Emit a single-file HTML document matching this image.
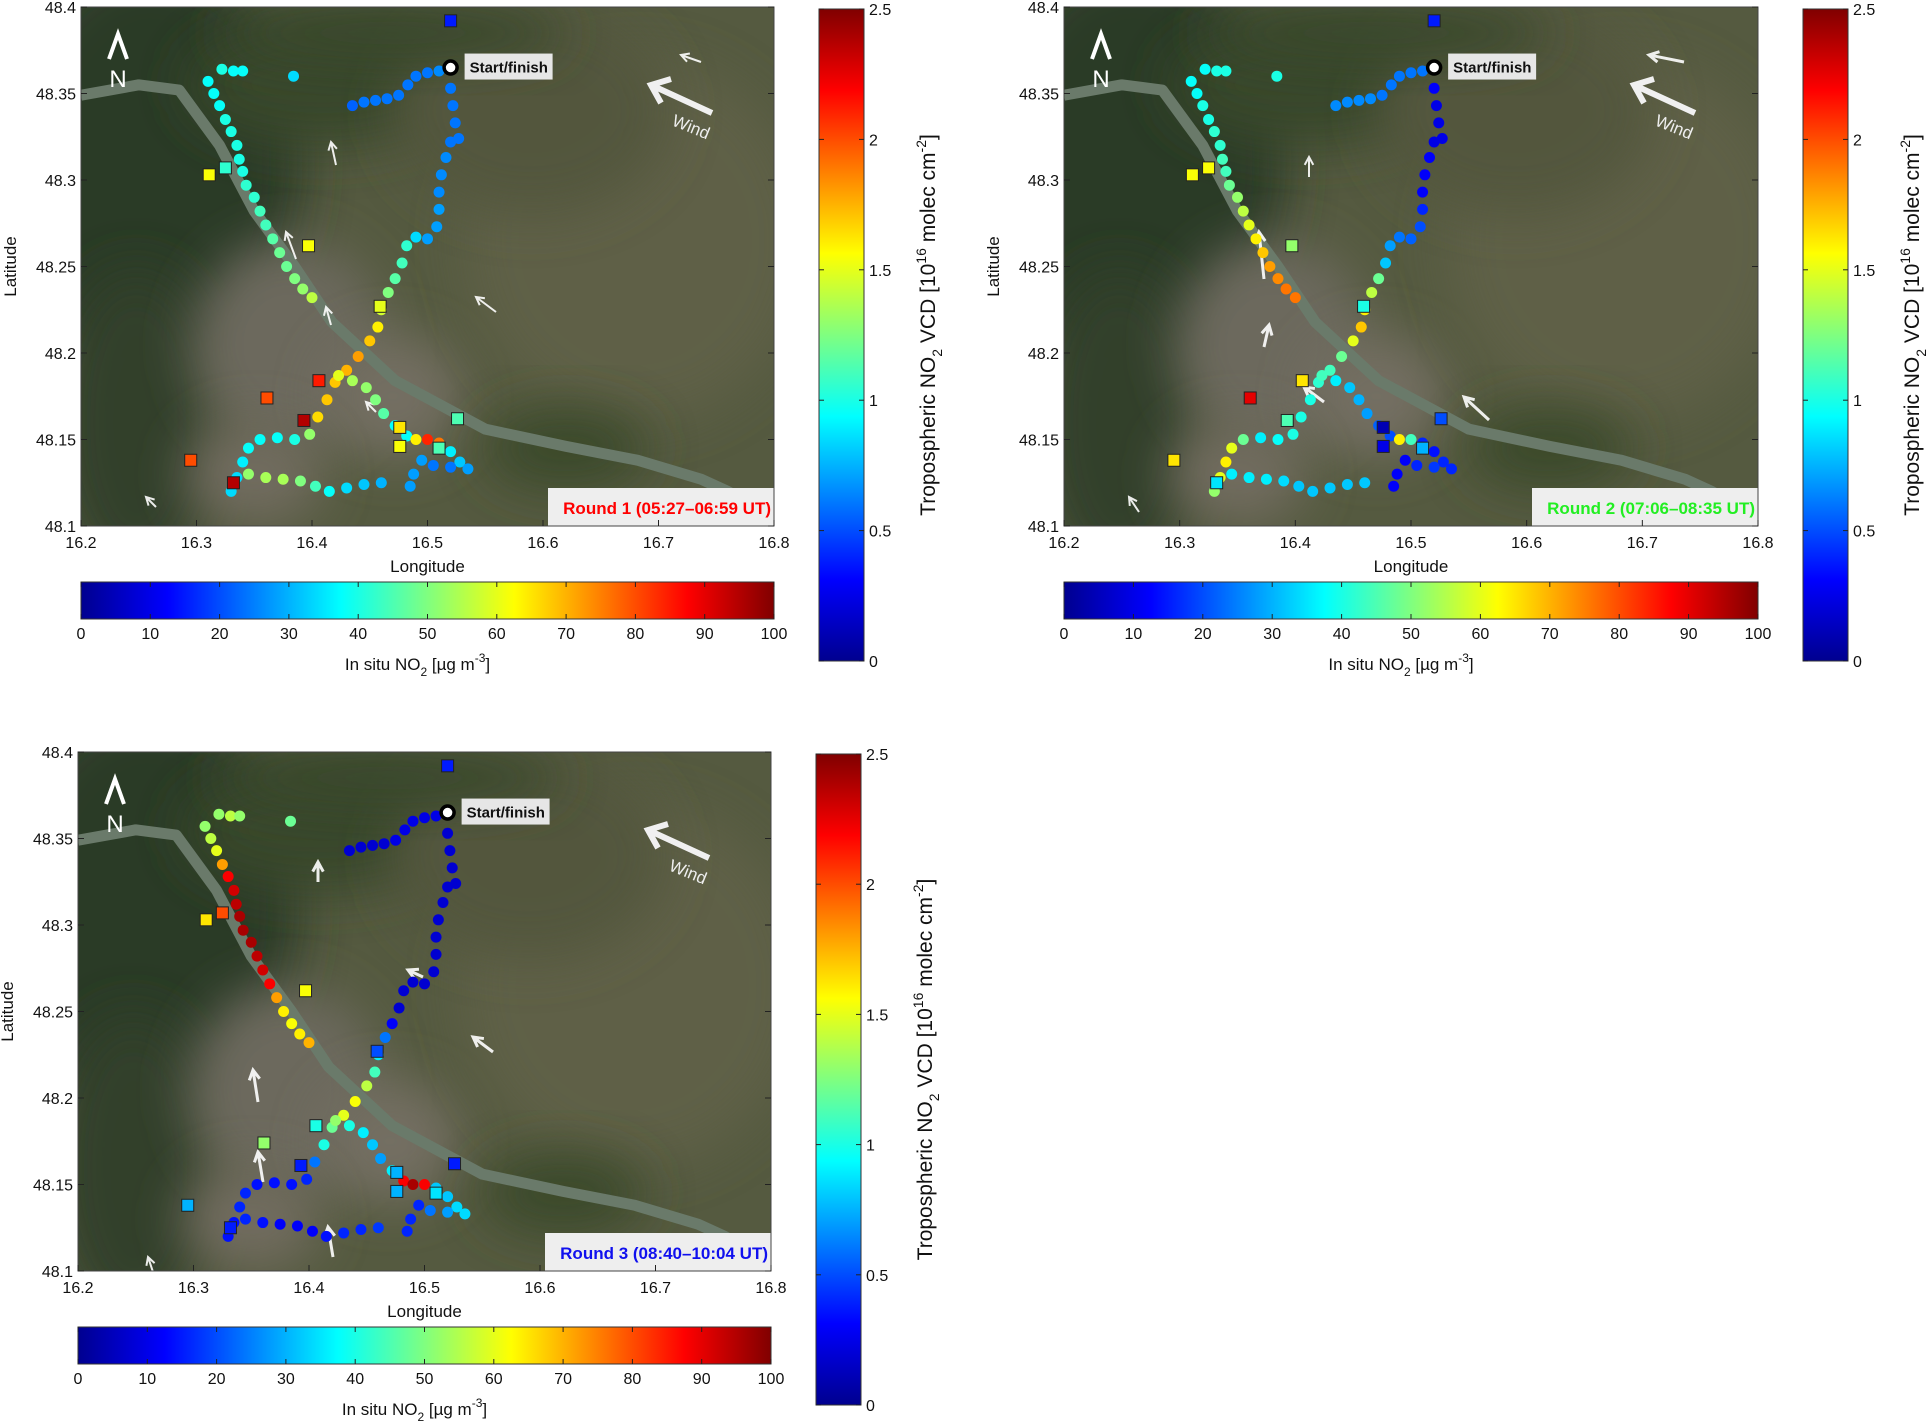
<!DOCTYPE html>
<html><head><meta charset="utf-8"><style>
html,body{margin:0;padding:0;background:#fff;}
svg{display:block;font-family:"Liberation Sans",Arial,sans-serif;}
</style></head><body>
<svg id="fig" width="1927" height="1427" viewBox="0 0 1927 1427" xmlns="http://www.w3.org/2000/svg">
<defs>
<linearGradient id="jetV" x1="0" y1="1" x2="0" y2="0">
<stop offset="0" stop-color="#00008f"/><stop offset="0.125" stop-color="#0000ff"/><stop offset="0.375" stop-color="#00ffff"/><stop offset="0.625" stop-color="#ffff00"/><stop offset="0.875" stop-color="#ff0000"/><stop offset="1" stop-color="#800000"/>
</linearGradient>
<linearGradient id="jetH" x1="0" y1="0" x2="1" y2="0">
<stop offset="0" stop-color="#00008f"/><stop offset="0.125" stop-color="#0000ff"/><stop offset="0.375" stop-color="#00ffff"/><stop offset="0.625" stop-color="#ffff00"/><stop offset="0.875" stop-color="#ff0000"/><stop offset="1" stop-color="#800000"/>
</linearGradient>
<filter id="blur" x="-50%" y="-50%" width="200%" height="200%"><feGaussianBlur stdDeviation="25"/></filter>
</defs>
</svg>
<script>
// ---- data ----
const lonTicks = [16.2,16.3,16.4,16.5,16.6,16.7,16.8];
const latTicks = [48.1,48.15,48.2,48.25,48.3,48.35,48.4];
const vcdTicks = [0,0.5,1,1.5,2,2.5];
const insituTicks = [0,10,20,30,40,50,60,70,80,90,100];
const roundLabels = ["Round 1 (05:27\u201306:59 UT)","Round 2 (07:06\u201308:35 UT)","Round 3 (08:40\u201310:04 UT)"];
const roundColors = ["#ff0000","#22ee22","#1010ee"];
const trackLon = [16.31,16.315,16.32,16.325,16.33,16.335,16.337,16.34,16.343,16.35,16.355,16.36,16.366,16.372,16.378,16.385,16.392,16.4,
16.322,16.332,16.34,16.384,
16.51,16.5,16.49,16.483,16.475,16.465,16.455,16.445,16.435,
16.52,16.522,16.524,16.527,16.52,16.516,16.512,16.51,16.51,16.508,16.5,16.49,16.482,16.478,16.472,16.466,16.46,16.457,16.45,16.44,16.43,16.42,16.413,16.405,16.398,16.385,16.37,16.355,16.345,16.34,16.335,16.33,
16.423,16.435,16.447,16.455,16.462,16.472,16.482,16.49,16.5,16.51,16.52,16.528,16.535,16.52,16.505,16.495,16.488,16.485,
16.345,16.36,16.375,16.39,16.403,16.415,16.43,16.445,16.46];
const trackLat = [48.357,48.35,48.343,48.335,48.328,48.32,48.312,48.305,48.297,48.29,48.282,48.274,48.266,48.258,48.25,48.243,48.237,48.232,
48.364,48.363,48.363,48.36,
48.363,48.362,48.36,48.355,48.349,48.347,48.346,48.345,48.343,
48.353,48.343,48.333,48.324,48.322,48.313,48.303,48.293,48.283,48.273,48.266,48.267,48.262,48.252,48.243,48.235,48.225,48.215,48.207,48.198,48.19,48.183,48.173,48.163,48.153,48.15,48.151,48.15,48.145,48.137,48.128,48.12,
48.187,48.184,48.18,48.173,48.165,48.158,48.152,48.15,48.15,48.148,48.143,48.137,48.133,48.134,48.135,48.138,48.13,48.123,
48.13,48.128,48.127,48.126,48.123,48.12,48.122,48.124,48.125];
const vcdRound1 = [0.95,0.95,0.95,1.0,1.0,1.0,1.0,1.0,1.05,1.05,1.1,1.1,1.15,1.2,1.2,1.25,1.3,1.4,
1.0,0.95,0.95,0.85,
0.65,0.6,0.6,0.6,0.6,0.6,0.6,0.6,0.55,
0.6,0.6,0.6,0.6,0.6,0.65,0.65,0.65,0.7,0.7,0.7,0.85,1.05,1.1,1.15,1.25,1.45,1.6,1.7,1.8,1.75,1.7,1.7,1.65,1.3,1.0,0.95,0.95,0.95,0.9,0.85,0.85,
1.5,1.35,1.3,1.25,1.15,0.95,0.95,1.6,2.1,1.9,0.9,0.8,0.7,0.6,0.6,0.7,0.7,0.7,
1.3,1.35,1.35,1.25,1.1,0.95,0.85,0.8,0.75];
const vcdRound2 = [0.95,0.95,1.0,1.0,1.05,1.05,1.1,1.1,1.2,1.3,1.4,1.5,1.6,1.7,1.8,1.85,1.9,1.9,
0.95,1.0,1.0,1.0,
0.6,0.6,0.6,0.6,0.6,0.65,0.65,0.65,0.65,
0.3,0.25,0.25,0.25,0.25,0.3,0.3,0.3,0.4,0.5,0.55,0.6,0.7,0.8,1.2,1.4,1.6,1.7,1.5,1.2,1.1,1.05,1.0,1.0,1.0,0.95,0.9,1.2,1.5,1.6,1.5,1.3,
1.1,0.9,0.8,0.75,0.7,0.55,0.5,1.6,1.1,0.4,0.35,0.4,0.4,0.45,0.4,0.3,0.3,0.3,
0.9,0.9,0.9,0.85,0.8,0.8,0.8,0.8,0.8];
const vcdRound3 = [1.3,1.4,1.5,1.8,2.2,2.3,2.35,2.4,2.4,2.4,2.35,2.3,2.2,1.8,1.6,1.55,1.6,1.75,
1.3,1.4,1.3,1.2,
0.25,0.25,0.25,0.25,0.25,0.2,0.2,0.2,0.2,
0.2,0.2,0.2,0.2,0.2,0.2,0.2,0.2,0.2,0.2,0.2,0.2,0.2,0.2,0.3,0.6,0.9,1.1,1.4,1.55,1.5,1.2,1.0,0.6,0.4,0.35,0.35,0.35,0.4,0.4,0.35,0.35,
1.3,1.0,0.9,0.8,0.7,0.9,2.2,2.4,2.2,0.8,0.8,0.85,0.85,0.7,0.6,0.4,0.4,0.4,
0.4,0.35,0.3,0.3,0.3,0.35,0.4,0.4,0.45];
const siteLon = [16.52,16.325,16.311,16.397,16.459,16.406,16.361,16.393,16.526,16.476,16.476,16.51,16.295,16.332];
const siteLat = [48.392,48.307,48.303,48.262,48.227,48.184,48.174,48.161,48.162,48.157,48.146,48.145,48.138,48.125];
const insituRound1 = [15,42,62,62,60,85,80,95,45,65,62,45,80,95];
const insituRound2 = [15,62,62,52,40,65,90,45,20,5,10,30,65,35];
const insituRound3 = [15,80,65,62,20,40,52,15,15,30,30,35,30,15];
const startLon = 16.52, startLat = 48.365;

// ---- helpers ----
const NS="http://www.w3.org/2000/svg";
const svg=document.getElementById('fig');
function mk(tag,attrs,parent){const e=document.createElementNS(NS,tag);for(const k in attrs)e.setAttribute(k,attrs[k]);(parent||svg).appendChild(e);return e;}
function jet(t){t=Math.max(0,Math.min(1,t));const c=v=>Math.round(255*Math.max(0,Math.min(1,v)));
return `rgb(${c(1.5-Math.abs(4*t-3))},${c(1.5-Math.abs(4*t-2))},${c(1.5-Math.abs(4*t-1))})`;}

const panels=[
 {x:81,y:7,w:693,h:519,cbx:819,cby:9,cbw:45,cbh:652,hy:582,vcd:vcdRound1,ins:insituRound1},
 {x:1064,y:7,w:694,h:519,cbx:1803,cby:9,cbw:45,cbh:652,hy:582,vcd:vcdRound2,ins:insituRound2},
 {x:78,y:752,w:693,h:519,cbx:816,cby:754,cbw:45,cbh:651,hy:1327,vcd:vcdRound3,ins:insituRound3}
];
const wind=[ // panel-relative decorative arrows [tailx,taily,headx,heady,width]
 [[620,55,600,48,2],[255,158,250,135,2],[215,252,205,225,2],[250,318,245,300,2],[415,305,395,290,2],[295,405,285,395,2],[75,500,65,490,2]],
 [[620,55,585,48,3],[245,170,245,150,2],[200,272,195,225,3],[200,340,205,318,3],[425,413,400,390,3],[75,505,65,490,2],[260,395,240,380,3]],
 [[345,225,330,218,3],[240,130,240,110,3],[180,350,175,318,3],[185,430,180,400,3],[415,300,395,285,3],[255,505,250,475,3],[75,520,70,505,2]]
];

panels.forEach((p,pi)=>{
 const g=mk('g',{});
 
 
 const X=lon=>p.x+(lon-16.2)/0.6*p.w;
 const Y=lat=>p.y+(48.4-lat)/0.3*p.h;
 const clipId='clip'+pi;
 const cp=mk('clipPath',{id:clipId},g);mk('rect',{x:p.x,y:p.y,width:p.w,height:p.h},cp);
 const bg=mk('g',{'clip-path':`url(#${clipId})`},g);
 
 
 mk('rect',{x:p.x,y:p.y,width:p.w,height:p.h,fill:'#555a40'},bg);
 const blobs=[[0.1,0.3,0.22,0.4,'#2c3a25'],[0.08,0.8,0.12,0.3,'#33412a'],[0.35,0.15,0.2,0.12,'#37462b'],[0.3,0.65,0.14,0.2,'#6c695d'],[0.45,0.75,0.1,0.12,'#736e62'],[0.25,0.9,0.1,0.1,'#716c5f'],[0.8,0.45,0.25,0.35,'#5f6146'],[0.65,0.2,0.2,0.2,'#52573c'],[0.7,0.85,0.12,0.08,'#3a492c'],[0.45,0.05,0.25,0.06,'#37462b']];
 blobs.forEach(b=>mk('ellipse',{cx:p.x+b[0]*p.w,cy:p.y+b[1]*p.h,rx:b[2]*p.w,ry:b[3]*p.h,fill:b[4],filter:'url(#blur)'},bg));
 const riv=[[16.2,48.349],[16.25,48.355],[16.285,48.352],[16.32,48.32],[16.35,48.282],[16.385,48.25],[16.417,48.218],[16.472,48.184],[16.55,48.156],[16.62,48.146],[16.682,48.138],[16.737,48.127],[16.76,48.12],[16.8,48.105]];
 const river=mk('polyline',{points:riv.map(q=>X(q[0])+','+Y(q[1])).join(' '),fill:'none',stroke:'#6a7a6a',"stroke-width":11,"stroke-linejoin":'round'},bg);
 
 
 wind[pi].forEach((a)=>{
  const [x1,y1,x2,y2,sw]=a;const ax=p.x+x1,ay=p.y+y1,bx=p.x+x2,by=p.y+y2;
  const ang=Math.atan2(by-ay,bx-ax),L=5+sw*2;
  const ar=mk('path',{d:`M${ax},${ay}L${bx},${by}M${bx-L*Math.cos(ang-0.5)},${by-L*Math.sin(ang-0.5)}L${bx},${by}L${bx-L*Math.cos(ang+0.5)},${by-L*Math.sin(ang+0.5)}`,stroke:'#fff',"stroke-width":sw,fill:'none',opacity:0.9},bg);
  
  
 });
 const bw=mk('path',{d:`M${p.x+631},${p.y+106}L${p.x+570},${p.y+78}M${p.x+590},${p.y+72}L${p.x+570},${p.y+78}L${p.x+580},${p.y+96}`,stroke:'#f0f0f0',"stroke-width":6,fill:'none'},bg);
 
 
 const wt=mk('text',{x:p.x+590,y:p.y+118,fill:'#eee',"font-size":17,transform:`rotate(22 ${p.x+590} ${p.y+118})`},bg);wt.textContent='Wind';
 
 
 const na=mk('path',{d:`M${p.x+28},${p.y+52}L${p.x+37},${p.y+27}L${p.x+46},${p.y+52}`,stroke:'#fff',"stroke-width":4,fill:'none'},bg);
 
 
 const nt=mk('text',{x:p.x+37,y:p.y+80,fill:'#fff',"font-size":24,"text-anchor":'middle'},bg);nt.textContent='N';
 
 
 trackLon.forEach((lon,i)=>{
  const c=mk('circle',{cx:X(lon),cy:Y(trackLat[i]),r:5.5,fill:jet(p.vcd[i]/2.5)},bg);
  
  
 });
 siteLon.forEach((lon,i)=>{
  const s=mk('rect',{x:X(lon)-6,y:Y(siteLat[i])-6,width:12,height:12,fill:jet(p.ins[i]/100),stroke:'#222',"stroke-width":1},bg);
  
  
 });
 const st=mk('circle',{cx:X(startLon),cy:Y(startLat),r:6.5,fill:'#fff',stroke:'#000',"stroke-width":3.5},bg);
 
 
 mk('rect',{x:X(startLon)+14,y:Y(startLat)-14,width:88,height:26,fill:'#e6e6e6'},bg);
 const stt=mk('text',{x:X(startLon)+19,y:Y(startLat)+5,"font-size":15,"font-weight":'bold',fill:'#111'},bg);stt.textContent='Start/finish';
 
 
 mk('rect',{x:p.x+p.w-226,y:p.y+p.h-38,width:226,height:38,fill:'#eeeeee'},bg);
 const rl=mk('text',{x:p.x+p.w-3,y:p.y+p.h-12,"font-size":17,"font-weight":'bold',fill:roundColors[pi],"text-anchor":'end'},bg);rl.textContent=roundLabels[pi];
 
 
 mk('rect',{x:p.x,y:p.y,width:p.w,height:p.h,fill:'none',stroke:'#444',"stroke-width":1},g);
 lonTicks.forEach(v=>{
  mk('line',{x1:X(v),y1:p.y+p.h,x2:X(v),y2:p.y+p.h-6,stroke:'#222'},g);
  const t=mk('text',{x:X(v),y:p.y+p.h+22,"font-size":16,"text-anchor":'middle',fill:'#111'},g);t.textContent=v.toFixed(1);
  
  
 });
 latTicks.forEach(v=>{
  mk('line',{x1:p.x,y1:Y(v),x2:p.x+6,y2:Y(v),stroke:'#222'},g);
  mk('line',{x1:p.x+p.w,y1:Y(v),x2:p.x+p.w-6,y2:Y(v),stroke:'#222'},g);
  const t=mk('text',{x:p.x-5,y:Y(v)+6,"font-size":16,"text-anchor":'end',fill:'#111'},g);t.textContent=String(v);
  
  
 });
 const xl=mk('text',{x:p.x+p.w/2,y:p.y+p.h+46,"font-size":17,"text-anchor":'middle',fill:'#111'},g);xl.textContent='Longitude';
 
 
 const yl=mk('text',{x:p.x-65,y:p.y+p.h/2,"font-size":17,"text-anchor":'middle',fill:'#111',transform:`rotate(-90 ${p.x-65} ${p.y+p.h/2})`},g);yl.textContent='Latitude';
 
 
 const vb=mk('rect',{x:p.cbx,y:p.cby,width:p.cbw,height:p.cbh,fill:'url(#jetV)',stroke:'#333'},g);
 
 
 vcdTicks.forEach(v=>{
  const yy=p.cby+p.cbh-(v/2.5)*p.cbh;
  mk('line',{x1:p.cbx,y1:yy,x2:p.cbx+5,y2:yy,stroke:'#222'},g);
  mk('line',{x1:p.cbx+p.cbw,y1:yy,x2:p.cbx+p.cbw-5,y2:yy,stroke:'#222'},g);
  const t=mk('text',{x:p.cbx+p.cbw+5,y:yy+6,"font-size":16,fill:'#111'},g);t.textContent=String(v);
  
  
 });
 const cx=p.cbx+p.cbw+71,cy=p.cby+p.cbh/2-10;
 const vt=mk('text',{x:cx,y:cy,"font-size":21,"text-anchor":'middle',fill:'#111',transform:`rotate(-90 ${cx} ${cy})`},g);
 vt.innerHTML='Tropospheric NO<tspan dy="7" font-size="14">2</tspan><tspan dy="-7"> VCD [10</tspan><tspan dy="-9" font-size="14">16</tspan><tspan dy="9"> molec cm</tspan><tspan dy="-9" font-size="14">-2</tspan><tspan dy="9">]</tspan>';
 
 
 const hb=mk('rect',{x:p.x,y:p.hy,width:p.w,height:37,fill:'url(#jetH)',stroke:'#333'},g);
 
 
 insituTicks.forEach(v=>{
  const xx=p.x+v/100*p.w;
  mk('line',{x1:xx,y1:p.hy,x2:xx,y2:p.hy+5,stroke:'#222'},g);
  mk('line',{x1:xx,y1:p.hy+37,x2:xx,y2:p.hy+32,stroke:'#222'},g);
  const t=mk('text',{x:xx,y:p.hy+57,"font-size":16,"text-anchor":'middle',fill:'#111'},g);t.textContent=String(v);
  
  
 });
 const ht=mk('text',{x:p.x+p.w/2-10,y:p.hy+88,"font-size":17,"text-anchor":'middle',fill:'#111'},g);
 ht.innerHTML='In situ NO<tspan dy="6" font-size="12">2</tspan><tspan dy="-6"> [\u00b5g m</tspan><tspan dy="-8" font-size="12">-3</tspan><tspan dy="8">]</tspan>';
 
 
});
</script>
</body></html>
